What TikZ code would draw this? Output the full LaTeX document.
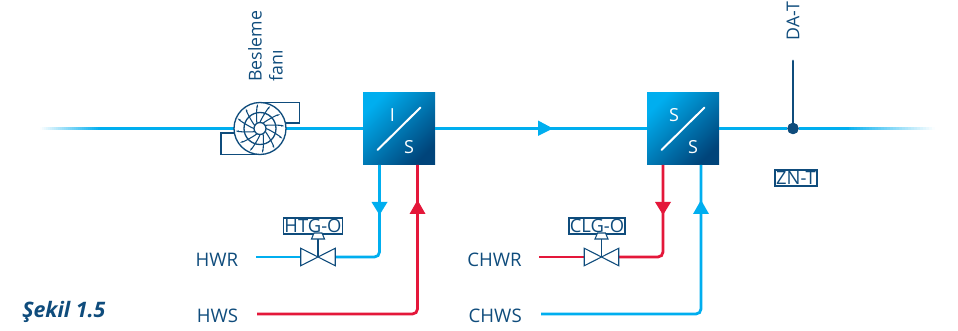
\documentclass[tikz,border=0pt]{standalone}
\usepackage{fontspec}
\setmainfont{Open Sans}
\definecolor{cy}{HTML}{00AEEF}
\definecolor{rd}{HTML}{E4173A}
\definecolor{dk}{HTML}{0F4C7C}
\definecolor{bxa}{HTML}{00AEEF}
\definecolor{bxb}{HTML}{00447A}
\tikzset{
  pipe/.style={line width=2.1pt,rounded corners=3.75pt},
  hx/.style={minimum size=54pt,inner sep=0pt,left color=bxa,right color=bxb,shading angle=45,draw=none},
  hxl/.style={text=white,font=\fontsize{13.5}{14}\selectfont,inner sep=0pt},
  lbl/.style={text=dk,font=\fontsize{14}{14}\selectfont,inner sep=0pt},
  lblv/.style={text=dk,font=\fontsize{13.3}{14}\selectfont,inner sep=0pt,rotate=90,anchor=west},
  tag/.style={draw=dk,line width=0.8pt,fill=white,text=dk,font=\fontsize{13.8}{14}\selectfont,inner sep=0pt,minimum height=12pt,text height=10pt,text depth=0pt},
  valve/.style={minimum width=25.5pt,minimum height=12.75pt,inner sep=0pt},
  sym/.style={draw=dk,line width=0.8pt},
}
\begin{document}
\begin{tikzpicture}[x=0.75pt,y=-0.75pt]
\useasboundingbox (0,0) rectangle (958,331);
% main duct fades
\coordinate (la) at (100,128.5);
\coordinate (rb) at (849,128.5);
\foreach \i in {0,...,29}{
  \pgfmathsetmacro{\p}{(\i+0.5)/30*100}
  \draw[line width=2.1pt,cy!\p!white] (40+2*\i,128.5) -- (42.2+2*\i,128.5);
  \draw[line width=2.1pt,cy!\p!white] (935-3*\i,128.5) -- (931.8-3*\i,128.5);
}
% main nodes
\node[hx] (hxa) at (399,129) {};
\node[hx] (hxb) at (683,129) {};
\node[minimum size=39pt,circle,inner sep=0pt] (fan) at (260,128.5) {};
\node[circle,fill=dk,minimum size=8.5pt,inner sep=0pt] (dot) at (793,128.5) {};
\coordinate (datop) at (793,61);
% pipes on main line
\draw[pipe,cy] (la) -- (fan.west);
\draw[pipe,cy] (fan.east) -- (hxa.west |- fan.east);
\draw[pipe,cy] (hxa.east |- fan.east) -- (hxb.west |- fan.east);
\draw[pipe,cy] (hxb.east |- fan.east) -- (dot) -- (rb);
\draw[dk,line width=2.2pt,line cap=round] (datop) -- (dot);
\node[circle,fill=dk,minimum size=8.5pt,inner sep=0pt] at (dot) {};
\fill[cy] (538,120.5) -- (553,128.5) -- (538,136) -- cycle;
% box contents
\draw[white,line width=1.5pt,line cap=round] (hxa.center) ++(-21.5,21) -- ++(43,-42.5);
\draw[white,line width=1.5pt,line cap=round] (hxb.center) ++(-21.5,21) -- ++(43,-42.5);
\node[hxl] at ([shift={(-6.5,-14)}]hxa.center) {I};
\node[hxl] at ([shift={(10,18)}]hxa.center) {S};
\node[hxl] at ([shift={(-9,-14)}]hxb.center) {S};
\node[hxl] at ([shift={(10,18)}]hxb.center) {S};
% fan casing
\draw[dk,line width=0.9pt,fill=white] (260,102.5) -- (299.5,102.5) -- (299.5,123) -- (285,123);
\draw[dk,line width=0.9pt] (234.5,133) -- (221,133) -- (221,154.5) -- (260,154.5);
\draw[sym,line width=1pt,fill=white] (fan) circle (26);
\draw[sym,line width=1pt] (fan) circle (16);
\foreach \a in {0,30,...,330}{
  \draw[dk,line width=0.8pt] (fan.center) ++(\a:6) .. controls ++(\a+15:4) and ++(\a+25:7) .. ++(\a+32:16);
}
\draw[sym,line width=1pt,fill=white] (fan) circle (6);
% valves
\node[valve] (vh) at (318,257) {};
\node[valve] (vc) at (601.5,257) {};
\node[tag,minimum width=44.5pt] (th) at (313,226) {HTG-O};
\node[tag,minimum width=42pt] (tc) at (597,226) {CLG-O};
\node[tag,minimum width=31.5pt] (zn) at (796,178) {ZN-T};
% labels
\node[lbl,anchor=east] (hwr) at (238.5,260) {HWR};
\node[lbl,anchor=east] (hws) at (238.5,316) {HWS};
\node[lbl,anchor=east] (chwr) at (522,260) {CHWR};
\node[lbl,anchor=east] (chws) at (522,316) {CHWS};
\node[lblv] (bes) at (255,82) {Besleme};
\node[lblv] (fn) at (276,82) {fanı};
\node[lblv] (dat) at (793,40.5) {DA-T};
\node[text=dk,inner sep=0pt,anchor=west,font=\fontsize{16}{16}\selectfont\bfseries\itshape] (cap) at (22,312) {Şekil 1.5};
% free pipe ends
\coordinate (hwrs) at (256,257);
\coordinate (hwss) at (257,314);
\coordinate (chwrs) at (539,257);
\coordinate (chwss) at (541,314);
% water pipes
\draw[pipe,cy] (hwrs) -- (vh.west);
\draw[pipe,cy] (vh.east) -- (379.5,257) -- (379.5,165);
\draw[pipe,rd] (hwss) -- (417.5,314) -- (417.5,165);
\draw[pipe,rd] (chwrs) -- (vc.west);
\draw[pipe,rd] (vc.east) -- (663,257) -- (663,165);
\draw[pipe,cy] (chwss) -- (701,314) -- (701,165);
% arrow tips
\fill[cy] (371.5,202) -- (387.5,202) -- (379.5,215) -- cycle;
\fill[rd] (409.5,214) -- (425.5,214) -- (417.5,200) -- cycle;
\fill[rd] (655,202) -- (671,202) -- (663,215) -- cycle;
\fill[cy] (693,214) -- (709,214) -- (701,200) -- cycle;
% valve symbols
\foreach \v in {vh,vc}{
  \draw[sym,line join=miter,fill=white] (\v.south west) -- (\v.north east) -- (\v.south east) -- (\v.north west) -- cycle;
  \draw[sym] (\v.center) -- ++(0,-18);
  \draw[sym,fill=white] (\v.center) ++(-6.5,-18) -- ++(13,0) -- ++(-2.5,-6) -- ++(-8,0) -- cycle;
}
\end{tikzpicture}
\end{document}
